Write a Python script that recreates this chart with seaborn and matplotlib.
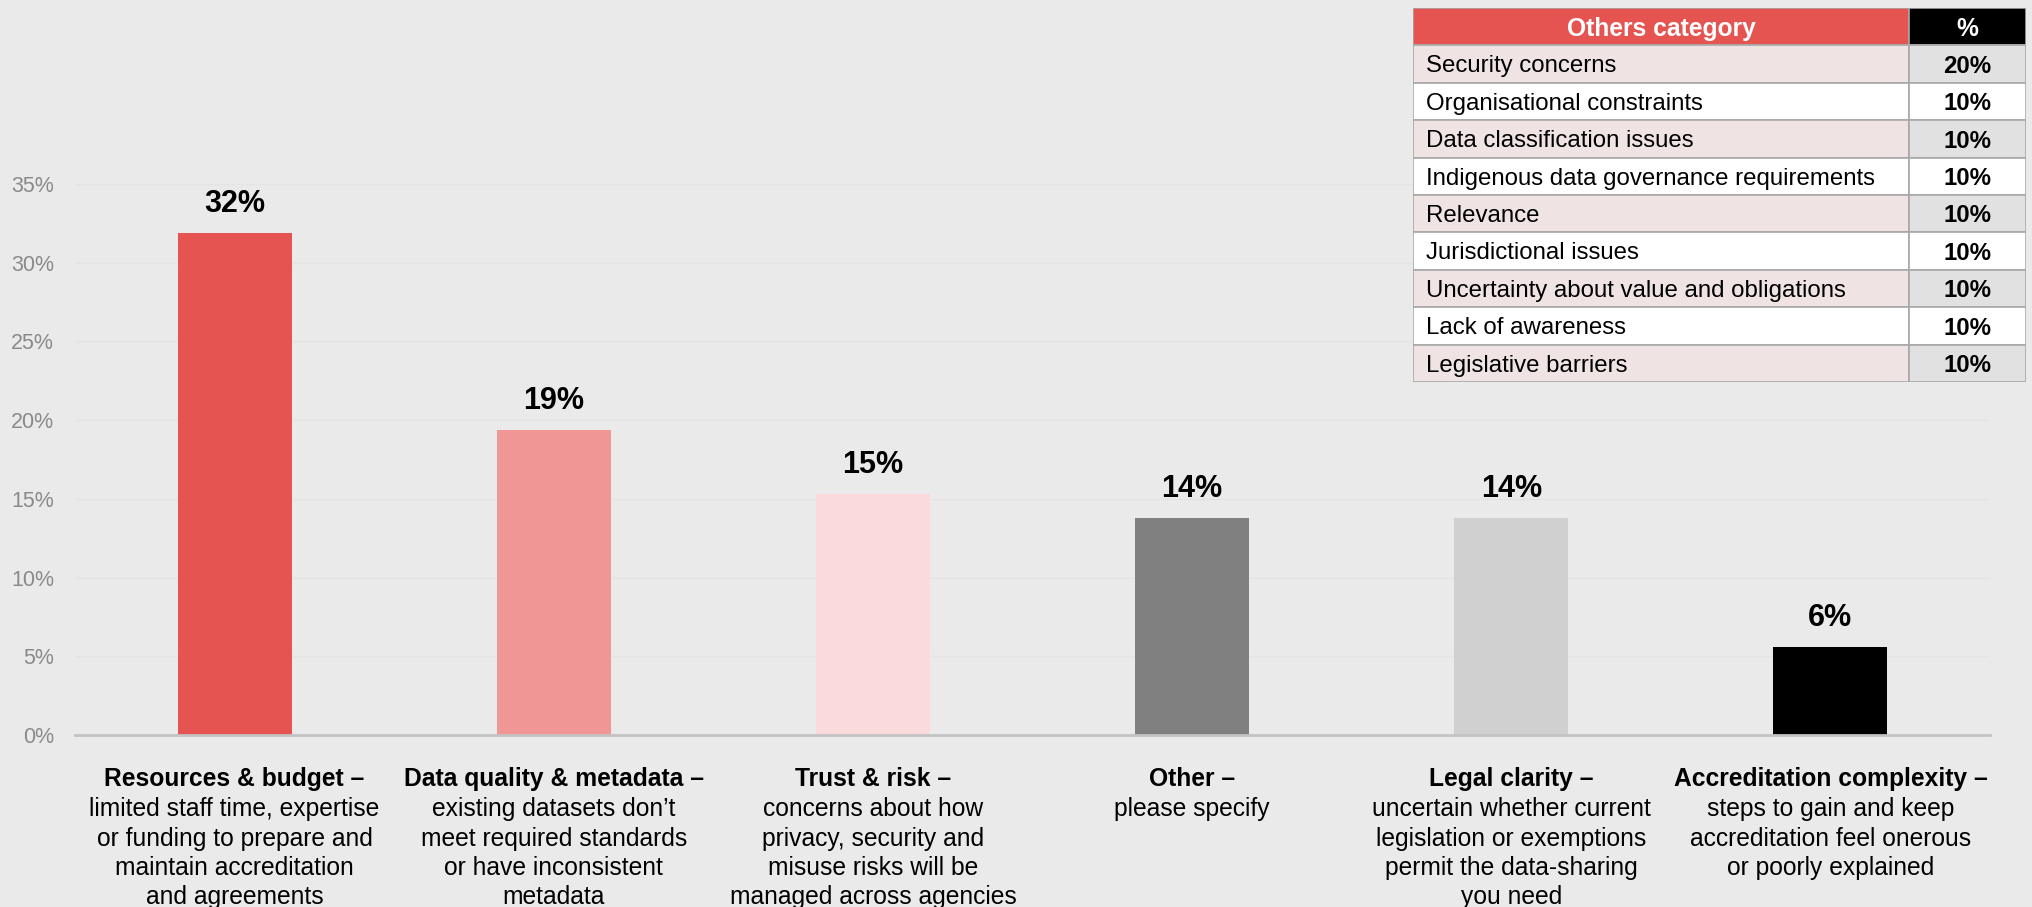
import matplotlib
matplotlib.use("Agg")
import matplotlib.pyplot as plt
from matplotlib.patches import Rectangle
from matplotlib.transforms import blended_transform_factory
import seaborn as sns
import pandas as pd

# Barrier categories: bold heading and explanatory text
headings = [
    "Resources & budget \u2013",
    "Data quality & metadata \u2013",
    "Trust & risk \u2013",
    "Other \u2013",
    "Legal clarity \u2013",
    "Accreditation complexity \u2013",
]
descriptions = [
    "limited staff time, expertise\nor funding to prepare and\nmaintain accreditation\nand agreements",
    "existing datasets don\u2019t\nmeet required standards\nor have inconsistent\nmetadata",
    "concerns about how\nprivacy, security and\nmisuse risks will be\nmanaged across agencies",
    "please specify",
    "uncertain whether current\nlegislation or exemptions\npermit the data-sharing\nyou need",
    "steps to gain and keep\naccreditation feel onerous\nor poorly explained",
]
shares = [31.9, 19.4, 15.3, 13.8, 13.8, 5.6]
bar_colors = ["#E65451", "#F09694", "#FADADB", "#808080", "#D0D0D0", "#000000"]

# Breakdown of the "Other" responses
others_categories = [
    "Security concerns",
    "Organisational constraints",
    "Data classification issues",
    "Indigenous data governance requirements",
    "Relevance",
    "Jurisdictional issues",
    "Uncertainty about value and obligations",
    "Lack of awareness",
    "Legislative barriers",
]
others_pct = [20, 10, 10, 10, 10, 10, 10, 10, 10]
y_ticks = [0, 5, 10, 15, 20, 25, 30, 35]

BG = "#EAEAEA"
sns.set_theme(style="white")
plt.rcParams["font.family"] = ["Liberation Sans", "DejaVu Sans"]

W, H = 2033, 907
fig = plt.figure(figsize=(W / 100, H / 100), dpi=100, facecolor=BG)
ax = fig.add_axes([75 / W, 1 - 735 / H, (1990 - 75) / W, (735 - 184) / H])
ax.set_facecolor(BG)

df = pd.DataFrame({"cat": headings, "share": shares})
sns.barplot(data=df, x="cat", y="share", hue="cat", palette=bar_colors,
            legend=False, width=0.357, saturation=1, linewidth=0, ax=ax)

ax.set_ylim(0, 35)
ax.set_xlim(-0.5, len(headings) - 0.5)
ax.set_yticks(y_ticks)
ax.set_yticklabels([f"{t}%" for t in y_ticks], color="#8A8A8A", fontsize=15.5)
ax.tick_params(axis="y", length=0, pad=15)
ax.set_xticks([])
ax.set_xlabel("")
ax.set_ylabel("")
for s in ["top", "right", "left"]:
    ax.spines[s].set_visible(False)
ax.spines["bottom"].set_color("#C3C3C3")
ax.spines["bottom"].set_linewidth(2)
ax.yaxis.grid(True, color="#E4E4E4", linewidth=1)
ax.set_axisbelow(True)

# value labels above bars
for i, v in enumerate(shares):
    ax.annotate(f"{v:.0f}%", (i, v), xytext=(0, 10), textcoords="offset points",
                ha="center", va="bottom", fontsize=22, fontweight="bold", color="black")

# category labels below the axis
tr = blended_transform_factory(ax.transData, ax.transAxes)
for i, (h, d) in enumerate(zip(headings, descriptions)):
    ax.text(i, -0.080, h, transform=tr, ha="center", va="center",
            fontsize=17.7, fontweight="bold", color="black")
    ax.text(i, -0.113, d, transform=tr, ha="center", va="top",
            fontsize=17.7, color="black", linespacing=1.28)

# "Others" breakdown table
tx0, tx1, tsplit = 1413, 2026, 1909
ty0, ty1 = 8, 382
tab = fig.add_axes([tx0 / W, 1 - ty1 / H, (tx1 - tx0) / W, (ty1 - ty0) / H])
n_rows = len(others_categories) + 1
tab.set_xlim(tx0, tx1)
tab.set_ylim(n_rows, 0)
tab.axis("off")
edge = "#A8A8A8"

def cell(x0, x1, r, color):
    tab.add_patch(Rectangle((x0, r), x1 - x0, 1, facecolor=color,
                            edgecolor=edge, linewidth=1.2))

cell(tx0, tsplit, 0, "#E65451")
cell(tsplit, tx1, 0, "#000000")
tab.text((tx0 + tsplit) / 2, 0.55, "Others category", ha="center", va="center",
         color="white", fontsize=17.7, fontweight="bold")
tab.text((tsplit + tx1) / 2, 0.55, "%", ha="center", va="center",
         color="white", fontsize=17.7, fontweight="bold")
for k, (name, pct) in enumerate(zip(others_categories, others_pct)):
    r = k + 1
    shaded = k % 2 == 0
    cell(tx0, tsplit, r, "#EFE4E3" if shaded else "white")
    cell(tsplit, tx1, r, "#E1E1E1" if shaded else "white")
    tab.text(tx0 + 13, r + 0.56, name, ha="left", va="center",
             color="black", fontsize=17.3)
    tab.text((tsplit + tx1) / 2, r + 0.56, f"{pct}%", ha="center", va="center",
             color="black", fontsize=17.3, fontweight="bold")

fig.savefig("out.png", dpi=100, facecolor=BG)
